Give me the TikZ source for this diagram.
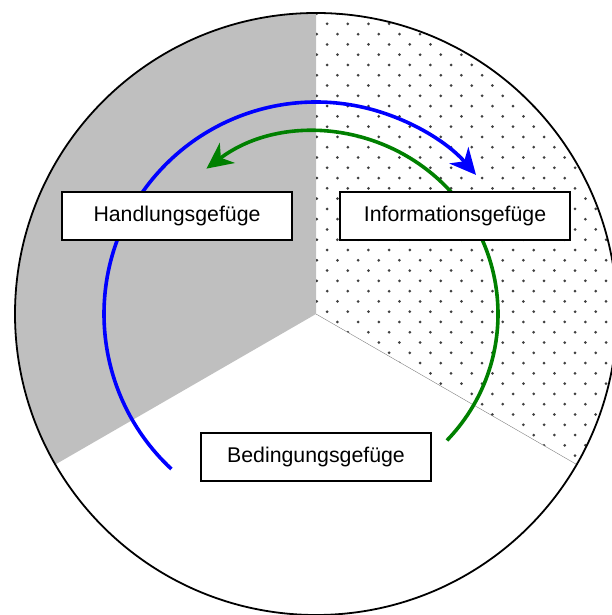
\documentclass[tikz,border=0pt]{standalone}
\usepackage{fontspec}
\setmainfont{Liberation Sans}
\usetikzlibrary{arrows.meta}

\definecolor{gruen}{RGB}{0,128,0}

\tikzset{
  gefuege/.style={draw, line width=1.8pt, fill=white, inner sep=0pt,
    minimum width=230pt, minimum height=48pt,
    font=\fontsize{21.3}{25}\selectfont},
  kreislauf/.style={line width=3.6pt,
    -{Stealth[length=26pt, width=25pt, inset=8pt]}},
}

\begin{document}
\begin{tikzpicture}[x=1pt, y=1pt]
\useasboundingbox (0,0) rectangle (611,615);
\coordinate (M) at (316,301);

% grey sector on the left
\fill[lightgray] (M) -- ([shift={(90:301)}]M) arc[start angle=90, end angle=210, radius=301] -- cycle;

% dotted sector on the right
\begin{scope}
\clip (M) -- ([shift={(90:301)}]M) arc[start angle=90, end angle=-30, radius=301] -- cycle;
\foreach \j in {0,...,45} {
  \pgfmathtruncatemacro\istart{mod(\j,2)}
  \pgfmathtruncatemacro\inext{\istart+2}
  \foreach \i in {\istart,\inext,...,29}
    \fill[black!75] ({316.8+10.33*\i},{149.1+10.28*\j}) circle[radius=1.5];
}
\end{scope}
\draw[gray, line width=0.4pt] (M) -- ([shift={(-30:301)}]M);

% the two cycles
\draw[kreislauf, blue] ([shift={(227:212)}]M) arc[start angle=227, end angle=41, radius=212];
\draw[kreislauf, gruen] ([shift={(-44:182)}]M) arc[start angle=-44, end angle=127, radius=182];

\node[gefuege] (handlung) at (177,399) {Handlungsgefüge};
\node[gefuege] (information) at (455,399) {Informationsgefüge};
\node[gefuege] (bedingung) at (316,158) {Bedingungsgefüge};

\draw[line width=1.8pt] (M) circle[radius=301];
\end{tikzpicture}
\end{document}
